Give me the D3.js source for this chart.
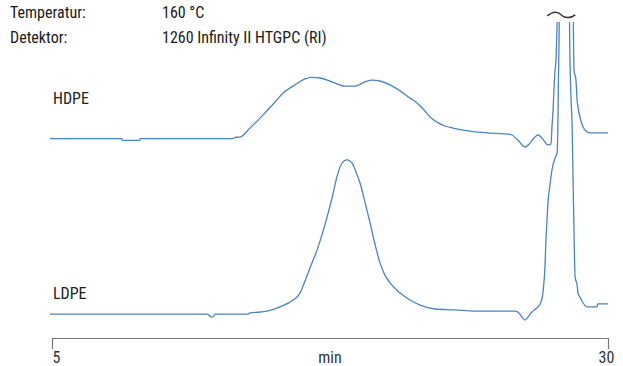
<!DOCTYPE html>
<html>
<head>
<meta charset="utf-8">
<script src="https://cdn.jsdelivr.net/npm/d3@7"></script>
<style>
  html, body { margin: 0; padding: 0; background: #fff; }
  svg text { font-family: "Liberation Sans Narrow", "Roboto Condensed", Roboto, sans-serif; }
</style>
</head>
<body>
<svg id="chart" width="623" height="366"></svg>
<script>
// Retention time (min) and detector response, each trace offset on one shared response axis
const hdpe = [
  [4.91,63.8],[8.14,63.8],[8.15,63.2],[8.95,63.2],[8.96,63.8],[13.14,63.8],[13.23,64.2],[13.45,64.3],
  [13.90,67.3],[14.44,71.3],[15.03,76.0],[15.39,79.0],[15.93,81.7],[16.38,83.7],[16.69,84.2],[17.05,84.0],
  [17.59,82.7],[18.17,81.3],[18.62,81.3],[19.07,82.7],[19.39,83.3],[19.75,83.0],[20.20,81.7],[20.65,79.7],
  [21.10,77.3],[21.41,75.7],[21.77,73.0],[22.00,71.0],[22.31,69.3],[22.67,68.0],[23.03,67.3],[23.80,66.3],
  [24.56,65.7],[25.46,65.3],[25.68,65.0],[25.95,63.3],[26.27,61.0],[26.49,62.3],[26.67,64.0],[26.85,65.0],
  [27.03,64.0],[27.30,61.7],[27.44,62.0],[27.48,67.7],[27.53,73.3],[27.55,76.7],[27.62,86.7],[27.66,90.0],
  [27.71,101.7],[27.75,112],[28.43,112],[28.45,96.7],[28.47,86.7],[28.56,83.3],[28.61,76.7],[28.65,74.3],
  [28.74,71.0],[28.88,67.7],[29.01,66.3],[29.19,65.7],[30.00,65.7]
];
const ldpe = [
  [4.91,5.3],[11.97,5.3],[12.10,4.7],[12.19,4.3],[12.28,4.7],[12.33,5.3],[13.81,5.3],[13.90,5.7],
  [14.35,6.0],[14.67,6.3],[15.25,7.7],[15.84,10.0],[16.15,12.3],[16.29,14.7],[16.60,20.7],[16.92,26.7],
  [17.37,37.7],[17.59,44.0],[17.81,51.0],[17.99,55.0],[18.13,56.3],[18.26,56.7],[18.40,56.3],[18.49,55.7],
  [18.67,52.7],[18.85,49.0],[19.07,42.7],[19.30,35.7],[19.52,28.7],[19.75,22.3],[19.97,18.3],[20.20,15.7],
  [20.65,12.3],[21.10,10.0],[21.55,8.3],[22.22,7.0],[23.12,6.7],[24.02,6.3],[25.82,6.3],[26.00,5.7],
  [26.13,4.3],[26.27,3.3],[26.40,4.3],[26.58,6.0],[26.85,7.7],[26.99,9.3],[27.08,12.7],[27.17,21.7],
  [27.21,30.0],[27.26,36.7],[27.30,42.3],[27.39,48.3],[27.48,53.3],[27.62,57.3],[27.71,59.0],[27.75,70.0],
  [27.77,83.3],[27.80,96.7],[27.82,112],[28.25,112],[28.29,90.0],[28.34,76.7],[28.38,70.0],[28.43,50.0],
  [28.47,33.3],[28.52,17.7],[28.61,15.0],[28.65,12.3],[28.74,11.0],[28.88,9.0],[29.06,7.7],[29.51,7.7],
  [29.53,8.7],[30.00,8.7]
];
const xTicks = [5, 30];
const xTitle = "min";
const traceLabels = [
  { name: "HDPE", level: 78 },
  { name: "LDPE", level: 13 }
];
const headerRows = [
  ["Temperatur:", "160 °C"],
  ["Detektor:", "1260 Infinity II HTGPC (RI)"]
];

const svg = d3.select("#chart");
const lineColor = "#4a84c6";
const fontStack = "\"Liberation Sans Narrow\", \"Roboto Condensed\", Roboto, sans-serif";

const x = d3.scaleLinear().domain([5, 30]).range([52, 608]);
const y = d3.scaleLinear().domain([0, 100]).range([330, 30]);
const topClip = y(102.7);

svg.append("defs").append("clipPath").attr("id", "plotClip")
  .append("rect").attr("x", 0).attr("y", topClip).attr("width", 623).attr("height", 366 - topClip);

const line = d3.line().x(d => x(d[0])).y(d => y(d[1])).curve(d3.curveMonotoneX);

const traces = svg.append("g").attr("clip-path", "url(#plotClip)");
[hdpe, ldpe].forEach(series => {
  traces.append("path").datum(series)
    .attr("d", line)
    .attr("fill", "none")
    .attr("stroke", lineColor)
    .attr("stroke-width", 1.3)
    .attr("stroke-linejoin", "round");
});

// Break mark above the off-scale solvent peaks
const bx = x(27.9), by = topClip - 7;
svg.append("path")
  .attr("d", `M${bx - 14},${by + 1} C${bx - 8},${by - 4} ${bx - 3},${by - 3} ${bx},${by} S${bx + 9},${by + 4} ${bx + 14},${by}`)
  .attr("fill", "none").attr("stroke", "#333").attr("stroke-width", 1.4);

// Trace labels
svg.selectAll("text.trace").data(traceLabels).join("text")
  .attr("class", "trace")
  .attr("x", 53)
  .attr("y", d => y(d.level) + 8)
  .attr("font-size", 16)
  .attr("fill", "#222")
  .text(d => d.name);

// Header
headerRows.forEach((row, i) => {
  svg.append("text").attr("x", 10).attr("y", 18 + i * 25)
    .attr("font-size", 16).attr("fill", "#1a1a1a").text(row[0]);
  svg.append("text").attr("x", 162).attr("y", 18 + i * 25)
    .attr("font-size", 16).attr("fill", "#1a1a1a").text(row[1]);
});

// Time axis
const axisY = 338;
const axis = d3.axisBottom(x).tickValues(xTicks).tickSize(11).tickSizeOuter(0).tickPadding(3)
  .tickFormat(d3.format("d"));
const gAxis = svg.append("g").attr("transform", `translate(0,${axisY})`).call(axis);
gAxis.select(".domain").attr("stroke", "#777").attr("stroke-width", 1.2);
gAxis.selectAll(".tick line").attr("stroke", "#777").attr("stroke-width", 1.2);
gAxis.selectAll(".tick text").attr("font-size", 16).attr("fill", "#333")
  .style("font-family", fontStack)
  .attr("text-anchor", d => d === xTicks[0] ? "start" : "middle")
  .attr("dx", d => d === xTicks[0] ? 0 : -2);
svg.append("text").attr("x", (x(5) + x(30)) / 2).attr("y", 363)
  .attr("text-anchor", "middle").attr("font-size", 16).attr("fill", "#333").text(xTitle);
</script>
</body>
</html>
